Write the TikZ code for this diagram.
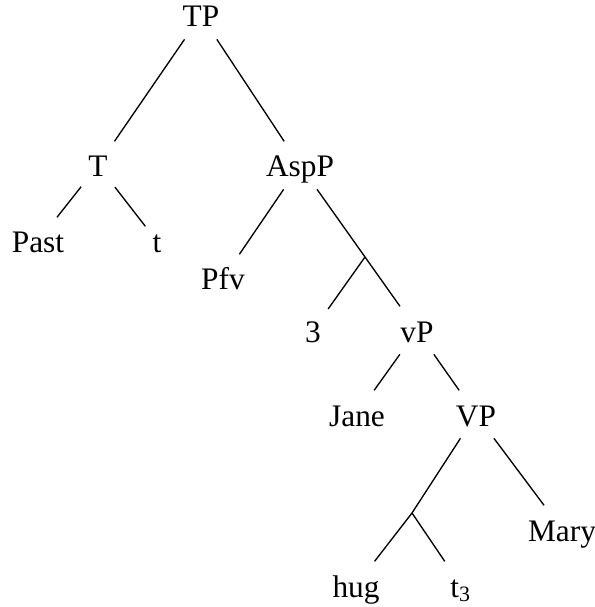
\documentclass[tikz,border=0pt]{standalone}
\usepackage{fontspec}
\setmainfont{Liberation Serif}

\begin{document}
\begin{tikzpicture}[x=0.3pt,y=-0.3pt]
				\tikzstyle{every node}=[anchor=base,inner xsep=2pt,inner ysep=1.5pt,text height=0.9em,text depth=0.2em,font=\fontsize{9.4}{11}\selectfont]
				\useasboundingbox (0,0) rectangle (595,607);
				\node (TP) at (201,27) {TP};
				\node (T) at (98,177) {T};
				\node (AspP) at (300,177) {AspP};
				\node (Past) at (38,253) {Past};
				\node (t) at (157,253) {t};
				\node (Pfv) at (223,290) {Pfv};
				\coordinate (bar) at (365,257);
				\node (three) at (313,342) {3};
				\node (vP) at (417,342) {vP};
				\node (Jane) at (357,426) {Jane};
				\node (VP) at (476,426) {VP};
				\node (Mary) at (562,541) {Mary};
				\coordinate (V) at (412,513);
				\node (hug) at (356,597) {hug};
				\node (trace) at (461,597) {t\textsubscript{3}};
				\draw (TP) -- (T) (TP) -- (AspP);
				\draw (T) -- (Past) (T) -- (t);
				\draw (AspP) -- (Pfv) (AspP) -- (bar);
				\draw (bar) -- (three) (bar) -- (vP);
				\draw (vP) -- (Jane) (vP) -- (VP);
				\draw (VP) -- (V) (VP) -- (Mary);
				\draw (V) -- (hug) (V) -- (trace);
\end{tikzpicture}
\end{document}
